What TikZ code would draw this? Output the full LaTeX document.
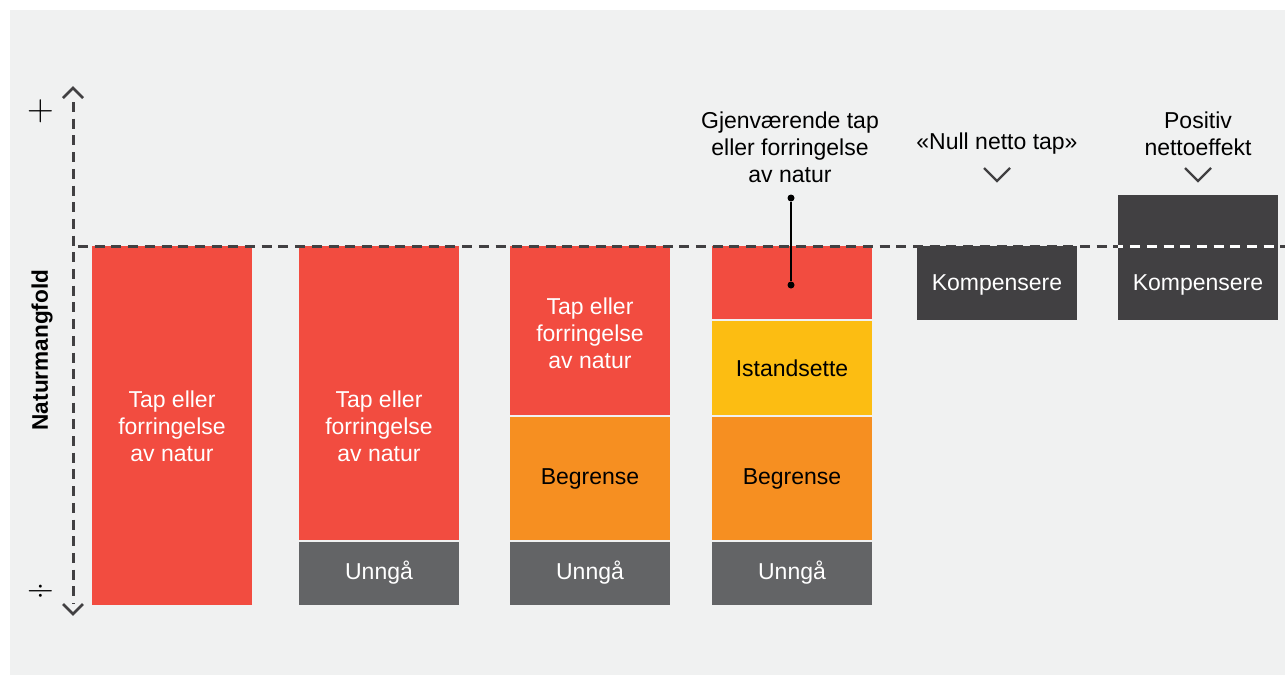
\documentclass[tikz,border=0pt]{standalone}
\usepackage{fontspec}
\setmainfont{Liberation Sans}
\newfontfamily\lmfont{Latin Modern Roman}
\definecolor{bgc}{HTML}{F0F1F1}
\definecolor{redc}{HTML}{F24C40}
\definecolor{orangec}{HTML}{F68F21}
\definecolor{yellowc}{HTML}{FCBD12}
\definecolor{grayc}{HTML}{636466}
\definecolor{darkc}{HTML}{414042}
\begin{document}
\begin{tikzpicture}[x=1pt,y=-1pt,
  txt/.style={font=\fontsize{23}{27}\selectfont, align=center, inner sep=0pt},
  wtxt/.style={txt, text=white},
  btxt/.style={txt, text=black},
  dashline/.style={draw=darkc, line width=3pt, dash pattern=on 10pt off 6.7pt},
  chev/.style={draw=darkc, line width=2.2pt},
  dot/.style={circle, fill=black, inner sep=0pt, minimum size=7pt},
  sym/.style={inner sep=0pt, font=\lmfont\fontsize{37}{37}\selectfont}]
\useasboundingbox (0,0) rectangle (1285,675);
\fill[bgc] (10,10) rectangle (1285,675);

% bars
\fill[redc] (92,246) rectangle (252,605);
\fill[redc] (299,246) rectangle (459,539.5);
\fill[grayc] (299,541.5) rectangle (459,605);
\fill[redc] (510,246) rectangle (670,415);
\fill[orangec] (510,417) rectangle (670,539.5);
\fill[grayc] (510,541.5) rectangle (670,605);
\fill[redc] (712,246) rectangle (872,319);
\fill[yellowc] (712,321) rectangle (872,415);
\fill[orangec] (712,417) rectangle (872,539.5);
\fill[grayc] (712,541.5) rectangle (872,605);
\fill[darkc] (917,246) rectangle (1077,320);
\fill[darkc] (1118,195) rectangle (1278,320);

% dashed level line
\coordinate (l0) at (78,246.5);
\coordinate (l1) at (1285,246.5);
\draw[dashline] (l0) -- (l1);
\begin{scope}
\clip (1118,236) rectangle (1278,256);
\draw[dashline, draw=white] (l0) -- (l1);
\end{scope}

% axis
\coordinate (a0) at (73,102);
\coordinate (a1) at (73,604);
\draw[dashline] (a0) -- (a1);
\coordinate (t0) at (63,98);
\coordinate (t1) at (73,88);
\coordinate (t2) at (83,98);
\draw[chev, line width=2.8pt] (t0) -- (t1) -- (t2);
\coordinate (b0) at (63,604);
\coordinate (b1) at (73,614);
\coordinate (b2) at (83,604);
\draw[chev, line width=2.8pt] (b0) -- (b1) -- (b2);
\node[sym] (plus) at (41,111) {+};
\node[sym] (div) at (41,593) {÷};
\node[inner sep=0pt, rotate=90, font=\fontsize{22.6}{22.6}\selectfont\bfseries] (yl) at (42,350) {Naturmangfold};

% texts in bars
\node[wtxt] (t1a) at (172,426) {Tap eller\\forringelse\\av natur};
\node[wtxt] (t2a) at (379,426) {Tap eller\\forringelse\\av natur};
\node[wtxt] (t2b) at (379,573) {Unngå};
\node[wtxt] (t3a) at (590,333) {Tap eller\\forringelse\\av natur};
\node[btxt] (t3b) at (590,479) {Begrense};
\node[wtxt] (t3c) at (590,573) {Unngå};
\node[btxt] (t4a) at (792,368) {Istandsette};
\node[btxt] (t4b) at (792,479) {Begrense};
\node[wtxt] (t4c) at (792,573) {Unngå};
\node[wtxt] (t5) at (997,285) {Kompensere};
\node[wtxt] (t6) at (1198,285) {Kompensere};

% top labels
\node[btxt] (g) at (790,147) {Gjenværende tap\\eller forringelse\\av natur};
\node[btxt] (n) at (997,144) {«Null netto tap»};
\node[btxt] (p) at (1198,134) {Positiv\\nettoeffekt};
\coordinate (c0) at (984,168);
\coordinate (c1) at (997,181);
\coordinate (c2) at (1010,168);
\draw[chev] (c0) -- (c1) -- (c2);
\coordinate (e0) at (1185,168);
\coordinate (e1) at (1198,181);
\coordinate (e2) at (1211,168);
\draw[chev] (e0) -- (e1) -- (e2);

% callout
\node[dot] (d1) at (791,198) {};
\node[dot] (d2) at (791,285) {};
\draw[line width=1.6pt] (d1) -- (d2);
\end{tikzpicture}
\end{document}
